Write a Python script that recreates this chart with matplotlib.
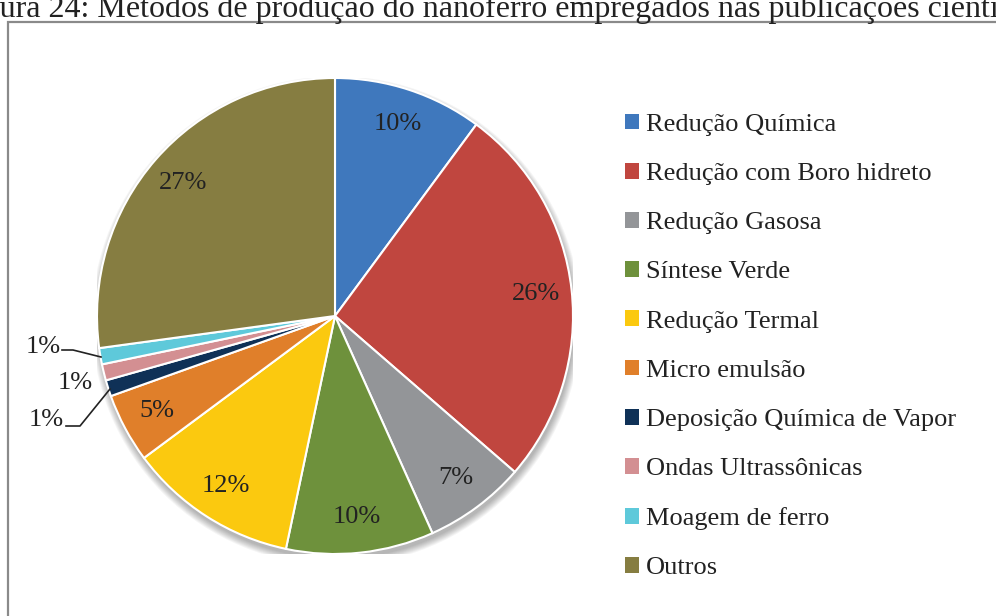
import matplotlib
matplotlib.use("Agg")
import matplotlib.pyplot as plt
from matplotlib.patches import Rectangle, Circle

categories = ["Redução Química", "Redução com Boro hidreto", "Redução Gasosa",
              "Síntese Verde", "Redução Termal", "Micro emulsão",
              "Deposição Química de Vapor", "Ondas Ultrassônicas",
              "Moagem de ferro", "Outros"]
values = [10.1, 26.2, 6.9, 10.0, 11.5, 4.7, 1.1, 1.1, 1.1, 27.1]
colors = ["#3F78BD", "#C0463F", "#939598", "#6E913C", "#FBC90F",
          "#E07F2A", "#0F3157", "#D38F92", "#5EC9DA", "#867D41"]
caption = "Figura 24: Métodos de produção do nanoferro empregados nas publicações científicas"

W, H = 996, 616
fig = plt.figure(figsize=(W / 100, H / 100), dpi=100)
plt.rcParams['font.family'] = ['Liberation Serif', 'DejaVu Serif']

# frame
fig.patches.append(Rectangle((8 / W, -0.1), 1.2, (H - 22) / H + 0.1,
                             transform=fig.transFigure, fill=False,
                             edgecolor="#8a8a8a", linewidth=1.6))
# cropped caption
fig.text(-43 / W, 1 - 16.5 / H, caption, fontsize=23, color="#222222",
         ha="left", va="baseline")

cx, cy, r = 335, 316, 238
ax = fig.add_axes([(cx - r) / W, (H - cy - r) / H, 2 * r / W, 2 * r / H])
ax.set_xlim(-1, 1)
ax.set_ylim(-1, 1)
ax.axis("off")

# soft shadow
for i in range(8):
    ax.add_patch(Circle((0.006, -0.02), 1.0 + 0.004 * i, color="#000000",
                        alpha=0.04, zorder=0, linewidth=0))

wedges, texts, autotexts = ax.pie(
    values, colors=colors, startangle=90, counterclock=False, radius=1,
    autopct="%.0f%%", pctdistance=0.85,
    wedgeprops=dict(edgecolor="white", linewidth=1.5),
    textprops=dict(fontsize=19, color="#222222"))
ax.set_xlim(-1, 1)
ax.set_ylim(-1, 1)

# small slices: labels outside with leader lines
for t in autotexts[6:9]:
    t.set_visible(False)
px = lambda x: (x - cx) / r
py = lambda y: (cy - y) / r
small = [(8, (43, 347), [(62, 350), (73, 350), (101, 357)]),
         (7, (75, 383), None),
         (6, (46, 420), [(66, 426), (80, 426), (110, 389)])]
for idx, (tx, ty), line in small:
    ax.text(px(tx), py(ty), autotexts[idx].get_text(), fontsize=19,
            color="#222222", ha="center", va="center", clip_on=False)
    if line:
        ax.plot([px(p[0]) for p in line], [py(p[1]) for p in line],
                color="#222222", linewidth=1.2, clip_on=False)

# legend
leg = fig.legend(wedges, categories, loc="upper left",
                 bbox_to_anchor=(614 / W, 1 - 103 / H), frameon=False,
                 fontsize=19, labelcolor="#222222", handlelength=0.55,
                 handleheight=0.55, handletextpad=0.25, labelspacing=1.02,
                 borderaxespad=0)
for h in leg.legend_handles:
    h.set_edgecolor("white")
    h.set_linewidth(0)

fig.savefig("out.png", dpi=100)
